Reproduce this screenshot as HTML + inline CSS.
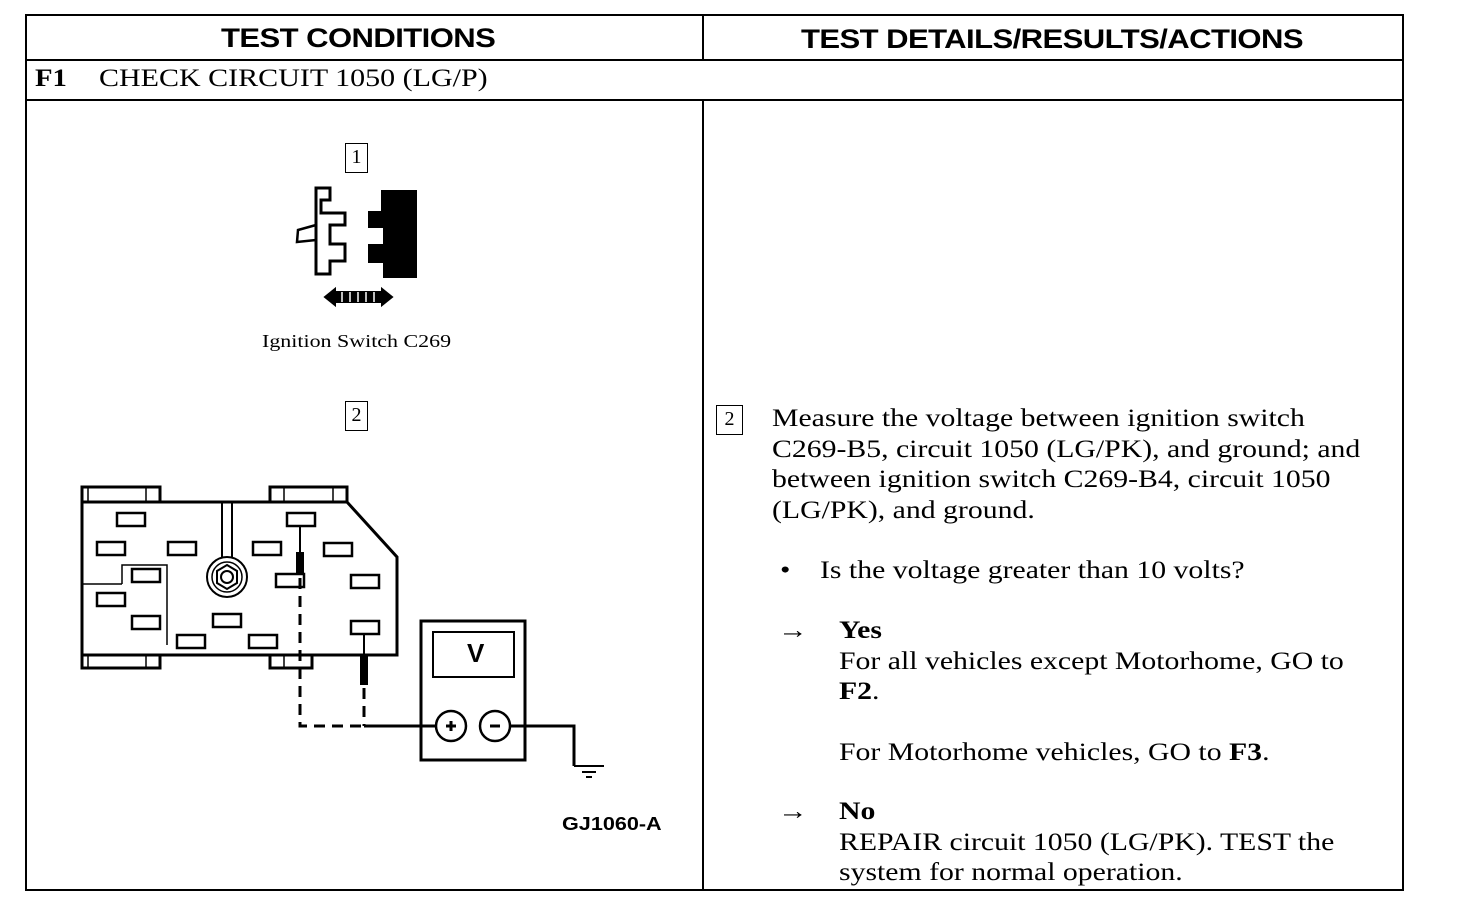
<!DOCTYPE html>
<html><head><meta charset="utf-8"><style>
body{margin:0;background:#fff;width:1472px;height:910px;position:relative;overflow:hidden;font-family:"Liberation Serif",serif;color:#000}
.a{position:absolute;white-space:nowrap;transform-origin:0 0}
.h{font-family:"Liberation Sans",sans-serif;font-weight:bold;font-size:27px;letter-spacing:-0.5px;transform:scaleX(1.15)}
.t{font-size:25px;line-height:30.5px;transform:scaleX(1.19)}
.bx{position:absolute;border:1.5px solid #000;font-size:20px;text-align:center;line-height:26px}
</style></head><body>
<svg width="1472" height="910" style="position:absolute;left:0;top:0" fill="none" stroke="#000" stroke-width="2">
<rect x="26" y="15" width="1377" height="875"/>
<line x1="26" y1="60" x2="1403" y2="60"/>
<line x1="26" y1="100" x2="1403" y2="100"/>
<line x1="703" y1="15" x2="703" y2="60"/>
<line x1="703" y1="100" x2="703" y2="890"/>
<path d="M316 188 H330 V200 H321 V213 H345 V225 H330 V244 H345 V261 H330 V274 H316 Z" stroke-width="3"/>
<path d="M316 225 L298 230 L297 242 L316 240" stroke-width="2.5"/>
<path d="M382 191 H416 V277 H384 V262 H369 V245 H384 V227 H369 V212 H382 Z" fill="#000"/>
<path d="M325 297 L335 289 V305 Z M392 297 L382 289 V305 Z" fill="#000"/>
<rect x="335" y="292" width="47" height="10" fill="#000"/>
<g stroke="#fff" stroke-width="1.5"><line x1="342" y1="292" x2="342" y2="302"/><line x1="350" y1="292" x2="350" y2="302"/><line x1="358" y1="292" x2="358" y2="302"/><line x1="366" y1="292" x2="366" y2="302"/><line x1="374" y1="292" x2="374" y2="302"/></g>
<g stroke-width="3">
<path d="M82 502 H347 L397 557 V655 H82 Z"/>
<rect x="82" y="487" width="78" height="15"/><rect x="270" y="487" width="77" height="15"/>
<rect x="82" y="655" width="78" height="13"/><rect x="270" y="655" width="42" height="13"/>
</g>
<g stroke-width="1.5"><line x1="88" y1="487" x2="88" y2="502"/><line x1="146" y1="487" x2="146" y2="502"/><line x1="284" y1="487" x2="284" y2="502"/><line x1="333" y1="487" x2="333" y2="502"/><line x1="88" y1="655" x2="88" y2="668"/><line x1="146" y1="655" x2="146" y2="668"/><line x1="284" y1="655" x2="284" y2="668"/></g>
<g stroke-width="2.5">
<rect x="117" y="513" width="28" height="13"/><rect x="97" y="542" width="28" height="13"/><rect x="168" y="542" width="28" height="13"/><rect x="253" y="542" width="28" height="13"/><rect x="287" y="513" width="28" height="13"/><rect x="324" y="543" width="28" height="13"/><rect x="276" y="574" width="28" height="13"/><rect x="351" y="575" width="28" height="13"/><rect x="132" y="569" width="28" height="13"/><rect x="97" y="593" width="28" height="13"/><rect x="132" y="616" width="28" height="13"/><rect x="213" y="614" width="28" height="13"/><rect x="177" y="635" width="28" height="13"/><rect x="249" y="635" width="28" height="13"/><rect x="351" y="621" width="28" height="13"/>
</g>
<path d="M122 584 V565 H167 V645 M82 584 H122" stroke-width="1.5"/>
<path d="M222 502 V558 M232 502 V558" stroke-width="2"/>
<circle cx="227" cy="577" r="20" stroke-width="2"/><circle cx="227" cy="577" r="15" stroke-width="1.5"/>
<path d="M227 565 L237 571 V583 L227 589 L217 583 V571 Z" stroke-width="2"/><circle cx="227" cy="577" r="6" stroke-width="2"/>
<line x1="300" y1="526" x2="300" y2="552"/><rect x="296" y="552" width="8" height="23" fill="#000" stroke="none"/>
<line x1="364" y1="634" x2="364" y2="655"/><rect x="360" y="655" width="8" height="30" fill="#000" stroke="none"/>
<path d="M300 578 V726 H364 M364 688 V726" stroke-width="3" stroke-dasharray="11 7"/>
<path d="M364 726 H436 M510 726 H574 V766" stroke-width="3"/>
<path d="M592 766 H622 M600 772 H614 M604 777 H610" stroke-width="2" transform="translate(-18,0)"/>
<rect x="421" y="621" width="104" height="139" stroke-width="3"/>
<rect x="433" y="632" width="81" height="45" stroke-width="2"/>
<circle cx="451" cy="726" r="15" stroke-width="2.5"/><circle cx="495" cy="726" r="15" stroke-width="2.5"/>
<path d="M446 726 H456 M451 721 V731 M490 726 H500" stroke-width="3"/>
</svg>
<div class="a h" style="left:221px;top:23px">TEST CONDITIONS</div>
<div class="a h" style="left:801px;top:24px">TEST DETAILS/RESULTS/ACTIONS</div>
<div class="a" style="left:35px;top:65px;font-size:25px;font-weight:bold;transform:scaleX(1.15)">F1</div>
<div class="a" style="left:99px;top:65px;font-size:25px;transform:scaleX(1.2)">CHECK CIRCUIT 1050 (LG/P)</div>
<div class="bx" style="left:345px;top:143px;width:21px;height:28px">1</div>
<div class="a" style="left:262px;top:331px;font-size:18px;transform:scaleX(1.22)">Ignition Switch C269</div>
<div class="bx" style="left:345px;top:401px;width:21px;height:28px">2</div>
<div class="a" style="left:467px;top:638px;font-size:26px;font-family:'Liberation Sans',sans-serif;font-weight:bold">V</div>
<div class="a" style="left:562px;top:814px;font-size:18px;font-family:'Liberation Sans',sans-serif;font-weight:bold;transform:scaleX(1.2)">GJ1060-A</div>
<div class="bx" style="left:716px;top:405px;width:25px;height:28px">2</div>
<div class="a t" style="left:772px;top:404px">Measure the voltage between ignition switch<br>C269-B5, circuit 1050 (LG/PK), and ground; and<br>between ignition switch C269-B4, circuit 1050<br>(LG/PK), and ground.</div>
<div class="a t" style="left:780px;top:556px">•</div>
<div class="a t" style="left:820px;top:556px">Is the voltage greater than 10 volts?</div>
<div class="a t" style="left:778px;top:616px">→</div>
<div class="a t" style="left:839px;top:616px"><b>Yes</b><br>For all vehicles except Motorhome, GO to<br><b>F2</b>.<br><br>For Motorhome vehicles, GO to <b>F3</b>.</div>
<div class="a t" style="left:778px;top:797px">→</div>
<div class="a t" style="left:839px;top:797px"><b>No</b><br>REPAIR circuit 1050 (LG/PK). TEST the<br>system for normal operation.</div>
</body></html>
